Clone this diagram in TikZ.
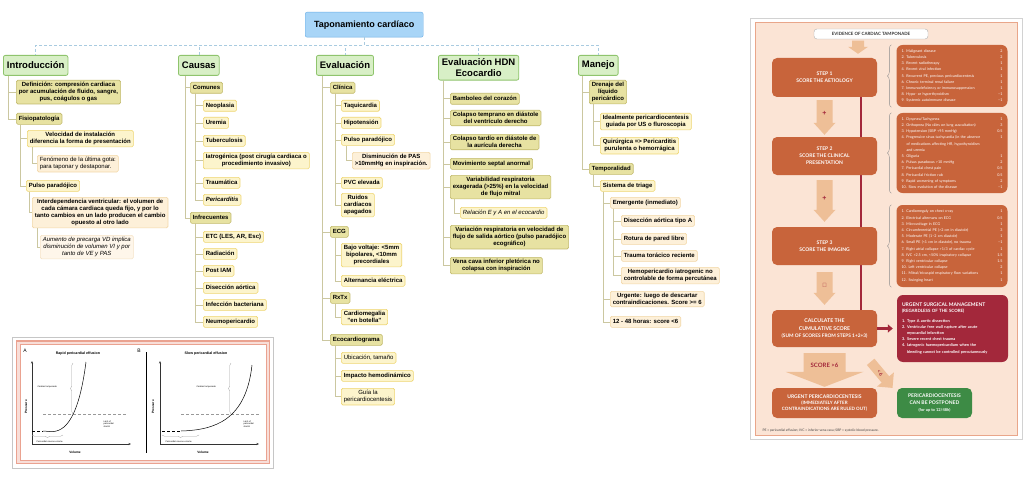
\documentclass[tikz,border=0pt]{standalone}
\usepackage{fontspec}
\setmainfont{Liberation Sans}
\newfontfamily\panelfont{Lato}
\usetikzlibrary{arrows.meta,calc,shapes.arrows,decorations.pathreplacing}
\pgfdeclarelayer{back}
\pgfdeclarelayer{mid}
\pgfsetlayers{back,mid,main}

\definecolor{rootfill}{HTML}{A8D5F7}
\definecolor{rootline}{HTML}{6AAEE6}
\definecolor{topicfill}{HTML}{D8EFC6}
\definecolor{topicline}{HTML}{8FC46D}
\definecolor{subfill}{HTML}{E7E2A2}
\definecolor{subline}{HTML}{C2BA6C}
\definecolor{itemfill}{HTML}{FCF4CC}
\definecolor{itemline}{HTML}{EED672}
\definecolor{notefill}{HTML}{FDF0D9}
\definecolor{noteline}{HTML}{F2D7A6}
\definecolor{finefill}{HTML}{FEF6EA}
\definecolor{fineline}{HTML}{F5E3C6}
\definecolor{linkcol}{HTML}{CBC7A0}
\definecolor{buscol}{HTML}{A9CBE0}
\definecolor{panelfill}{HTML}{FBE4D5}
\definecolor{panelline}{HTML}{E9A68A}
\definecolor{stepfill}{HTML}{C8643B}
\definecolor{arrowfill}{HTML}{EEBF97}
\definecolor{crimson}{HTML}{A3283B}
\definecolor{okgreen}{HTML}{3D8B45}
\definecolor{salmon}{HTML}{EAA290}

\newcommand{\mmfont}{\fontsize{6}{7}\selectfont}
% fat down arrow: from, to, half shaft, half head, head length
\newcommand{\fatarrow}[5]{%
  \fill[arrowfill] let \p1=(#1), \p2=(#2) in
    (\x1-#3pt,\y1) -- (\x1+#3pt,\y1) -- (\x1+#3pt,\y2+#5pt) -- (\x1+#4pt,\y2+#5pt)
    -- (\x1,\y2) -- (\x1-#4pt,\y2+#5pt) -- (\x1-#3pt,\y2+#5pt) -- cycle;}

\begin{document}
\begin{tikzpicture}[x=1pt, y=-1pt,
  rootbox/.style={rectangle, draw=rootline, fill=rootfill, rounded corners=2pt, anchor=north west,
    minimum width=118pt, minimum height=25pt, font=\fontsize{9}{10}\selectfont\bfseries},
  topic/.style={rectangle, draw=topicline, fill=topicfill, line width=0.8pt, rounded corners=2pt,
    anchor=north west, align=center, inner xsep=3.5pt, minimum height=20pt,
    font=\fontsize{9.5}{11}\selectfont\bfseries},
  mmbox/.style={rectangle, rounded corners=1.5pt, anchor=north west, align=center, inner xsep=2.5pt,
    inner ysep=2pt, minimum height=11pt, line width=0.6pt, font=\mmfont\bfseries},
  subbox/.style={mmbox, draw=subline, fill=subfill},
  itembox/.style={mmbox, draw=itemline, fill=itemfill},
  notebox/.style={mmbox, draw=noteline, fill=notefill},
  finebox/.style={mmbox, draw=fineline, fill=finefill},
  normaltext/.style={font=\mmfont},
  ital/.style={font=\mmfont\itshape},
  bital/.style={font=\mmfont\bfseries\itshape},
  link/.style={draw=linkcol, line width=0.6pt},
  bus/.style={draw=buscol, line width=0.6pt, densely dashed},
  tiny/.style={font=\fontsize{2.2}{2.6}\selectfont, align=left},
  axis/.style={-{Stealth[length=2.5pt,width=2pt]}, line width=0.4pt, black!80},
  brc/.style={decorate, decoration={brace, amplitude=2.5pt}, gray!70, line width=0.3pt},
  stepbox/.style={rectangle, rounded corners=5pt, fill=stepfill, text=white, align=center,
    minimum width=105pt, font=\panelfont\fontsize{5}{7}\selectfont\bfseries},
  listbox/.style={rectangle, rounded corners=6pt, fill=stepfill, text=white, text width=101pt,
    align=left, inner xsep=5pt, font=\panelfont\fontsize{3.7}{6.2}\selectfont},
  lbrace/.style={decorate, decoration={brace, amplitude=4pt}, black!45, line width=0.4pt},
  redline/.style={crimson, line width=2pt},
  redarr/.style={-{Triangle[length=5pt,width=8pt]}, crimson, line width=2.5pt, shorten >=4pt}
]
\useasboundingbox (0,0) rectangle (1024,476);
\begin{pgfonlayer}{back}
  \fill[white] (0,0) rectangle (1024,476);
\end{pgfonlayer}

% ---------------- mind map
\node[rootbox] (root) at (305,12) {Taponamiento cardíaco};

\node[topic] (intro) at (3,55) {Introducción};
\node[topic] (causas) at (178,55) {Causas};
\node[topic] (eval) at (316,55) {Evaluación};
\node[topic] (hdn) at (438,55) {Evaluación HDN\\Ecocardio};
\node[topic] (manejo) at (578,55) {Manejo};

\foreach \t in {intro,causas,eval,hdn,manejo}
  \draw[bus] (root.south) -- ++(0,8) -| (\t.north);

% Introduccion
\node[subbox] (def) at (16,80) {Definición: compresión cardiaca\\por acumulación de fluido, sangre,\\pus, coágulos o gas};
\node[subbox] (fisio) at (16,113) {Fisiopatología};
\node[itembox] (vel) at (27,130) {Velocidad de instalación\\diferencia la forma de presentación};
\node[notebox, normaltext, align=left] (ultima) at (37,155) {Fenómeno de la última gota:\\para taponar y destaponar.};
\node[itembox] (pulso) at (26,180) {Pulso paradójico};
\node[notebox] (interdep) at (32,197) {Interdependencia ventricular: el volumen de\\cada cámara cardiaca queda fijo, y por lo\\tanto cambios en un lado producen el cambio\\opuesto al otro lado};
\node[finebox, ital] (aumento) at (40,235) {Aumento de precarga VD implica\\disminución de volumen VI y por\\tanto de VE y PAS};

\foreach \c in {def,fisio} \draw[link] ([xshift=5pt]intro.south west) |- (\c.west);
\foreach \c in {vel,pulso} \draw[link] ([xshift=4pt]fisio.south west) |- (\c.west);
\draw[link] ([xshift=5pt]vel.south west) |- (ultima.west);
\draw[link] ([xshift=3pt]pulso.south west) |- (interdep.west);
\draw[link] ([xshift=5pt]interdep.south west) |- (aumento.west);

% Causas
\node[subbox] (comunes) at (190,82) {Comunes};
\node[itembox] (neo) at (203,100) {Neoplasia};
\node[itembox] (uremia) at (203,117) {Uremia};
\node[itembox] (tbc) at (203,135) {Tuberculosis};
\node[itembox] (iatro) at (203,152) {Iatrogénica (post cirugía cardiaca o\\procedimiento invasivo)};
\node[itembox] (traum) at (203,177) {Traumática};
\node[itembox, bital] (pericard) at (203,194) {Pericarditis};
\node[subbox] (infrec) at (190,212) {Infrecuentes};
\node[itembox] (etc) at (203,231) {ETC (LES, AR, Esc)};
\node[itembox] (radia) at (203,248) {Radiación};
\node[itembox] (postiam) at (203,265) {Post IAM};
\node[itembox] (daort) at (203,282) {Disección aórtica};
\node[itembox] (infecc) at (203,299) {Infección bacteriana};
\node[itembox] (neumo) at (203,316) {Neumopericardio};

\foreach \c in {comunes,infrec} \draw[link] ([xshift=7pt]causas.south west) |- (\c.west);
\foreach \c in {neo,uremia,tbc,iatro,traum,pericard} \draw[link] ([xshift=5pt]comunes.south west) |- (\c.west);
\foreach \c in {etc,radia,postiam,daort,infecc,neumo} \draw[link] ([xshift=5pt]infrec.south west) |- (\c.west);

% Evaluacion
\node[subbox] (clinica) at (330,82) {Clínica};
\node[itembox] (taqui) at (341,100) {Taquicardia};
\node[itembox] (hipot) at (341,117) {Hipotensión};
\node[itembox] (pulsoev) at (341,134) {Pulso paradójico};
\node[notebox] (dismin) at (352,152) {Disminución de PAS\\>10mmHg en inspiración.};
\node[itembox] (pvc) at (341,177) {PVC elevada};
\node[itembox] (ruidos) at (341,193) {Ruidos\\cardíacos\\apagados};
\node[subbox] (ecg) at (330,226) {ECG};
\node[itembox] (bajo) at (341,243) {Bajo voltaje: <5mm\\bipolares, <10mm\\precordiales};
\node[itembox] (altern) at (341,275) {Alternancia eléctrica};
\node[subbox] (rxtx) at (330,292) {RxTx};
\node[itembox] (cardiom) at (341,309) {Cardiomegalia\\"en botella"};
\node[subbox] (ecoc) at (330,334) {Ecocardiograma};
\node[itembox, normaltext] (ubic) at (341,352) {Ubicación, tamaño};
\node[itembox] (impacto) at (341,370) {Impacto hemodinámico};
\node[itembox, normaltext] (guia) at (341,388) {Guía la\\pericardiocentesis};

\foreach \c in {clinica,ecg,rxtx,ecoc} \draw[link] ([xshift=6pt]eval.south west) |- (\c.west);
\foreach \c in {taqui,hipot,pulsoev,pvc,ruidos} \draw[link] ([xshift=5pt]clinica.south west) |- (\c.west);
\draw[link] ([xshift=5pt]pulsoev.south west) |- (dismin.west);
\foreach \c in {bajo,altern} \draw[link] ([xshift=5pt]ecg.south west) |- (\c.west);
\draw[link] ([xshift=5pt]rxtx.south west) |- (cardiom.west);
\foreach \c in {ubic,impacto,guia} \draw[link] ([xshift=5pt]ecoc.south west) |- (\c.west);

% Evaluacion HDN
\node[subbox] (bamboleo) at (450,93) {Bamboleo del corazón};
\node[subbox] (colap1) at (450,110) {Colapso temprano en diástole\\del ventrículo derecho};
\node[subbox] (colap2) at (450,134) {Colapso tardío en diástole de\\la aurícula derecha};
\node[subbox] (septal) at (450,158) {Movimiento septal anormal};
\node[subbox] (variab) at (450,175) {Variabilidad respiratoria\\exagerada (>25\%) en la velocidad\\de flujo mitral};
\node[itembox, ital] (relacion) at (460,207) {Relación E y A en el ecocardio};
\node[subbox] (variac) at (450,225) {Variación respiratoria en velocidad de\\flujo de salida aórtico (pulso paradójico\\ecográfico)};
\node[subbox] (vena) at (450,257) {Vena cava inferior pletórica no\\colapsa con inspiración};

\foreach \c in {bamboleo,colap1,colap2,septal,variab,variac,vena} \draw[link] ([xshift=5pt]hdn.south west) |- (\c.west);
\draw[link] ([xshift=4pt]variab.south west) |- (relacion.west);

% Manejo
\node[subbox] (drenaje) at (589,80) {Drenaje del\\líquido\\pericárdico};
\node[itembox] (ideal) at (600,113) {Idealmente pericardiocentesis\\guiada por US o fluroscopia};
\node[itembox] (quirur) at (600,137) {Quirúrgica => Pericarditis\\purulenta o hemorrágica};
\node[subbox] (tempo) at (589,163) {Temporalidad};
\node[itembox] (triage) at (600,180) {Sistema de triage};
\node[notebox] (emerg) at (610,197) {Emergente (inmediato)};
\node[notebox] (daortA) at (621,215) {Disección aórtica tipo A};
\node[notebox] (rotura) at (621,233) {Rotura de pared libre};
\node[notebox] (traumat) at (621,250) {Trauma torácico reciente};
\node[notebox] (hemo) at (621,267) {Hemopericardio iatrogenic no\\controlable de forma percutánea};
\node[notebox] (urgente) at (610,291) {Urgente: luego de descartar\\contraindicaciones. Score >= 6};
\node[notebox] (doce) at (610,316) {12 - 48 horas: score <6};

\foreach \c in {drenaje,tempo} \draw[link] ([xshift=4pt]manejo.south west) |- (\c.west);
\foreach \c in {ideal,quirur} \draw[link] ([xshift=4pt]drenaje.south west) |- (\c.west);
\draw[link] ([xshift=4pt]tempo.south west) |- (triage.west);
\foreach \c in {emerg,urgente,doce} \draw[link] ([xshift=3pt]triage.south west) |- (\c.west);
\foreach \c in {daortA,rotura,traumat,hemo} \draw[link] ([xshift=3pt]emerg.south west) |- (\c.west);

% ---------------- pressure / volume curves
\draw[gray!45, line width=0.5pt] (12,337) rectangle (273,468);
\draw[salmon, fill=salmon!35, line width=1.2pt] (16.5,341) rectangle (269.5,463.5);
\draw[salmon, fill=white, line width=0.4pt] (20,344.5) rectangle (266,460);

\node[font=\fontsize{5}{6}\selectfont] at (25,351) {A};
\node[font=\fontsize{3.6}{4}\selectfont\bfseries] at (78,354) {Rapid pericardial effusion};
\draw[axis] (32,444) -- (32,361);
\draw[axis] (32,444) -- (131,444);
\node[rotate=90, font=\fontsize{3.2}{4}\selectfont\bfseries] at (26,407) {Pressure};
\node[font=\fontsize{3.2}{4}\selectfont\bfseries] at (75,452) {Volume};
\draw[densely dashed, gray!80, line width=0.4pt] (43,414) -- (126,414);
\node[tiny, anchor=north west] at (100,417) {Limit of\\pericardial\\stretch};
\draw[densely dashed, line width=0.4pt] (32,431) -- (43,431);
\draw[line width=0.5pt] (43,431) -- (50,431.5) .. controls (66,433) and (79,416) .. (86,362);
\draw[brc] (73,414) -- (73,363);
\node[tiny, anchor=west] at (34,387) {Cardiac tamponade};
\draw[brc] (63,435) -- (32,435);
\node[tiny, anchor=west] at (33,442) {Pericardial reserve volume};

\draw[line width=0.4pt] (146,352) -- (146,453);
\node[font=\fontsize{5}{6}\selectfont] at (139,351) {B};
\node[font=\fontsize{3.6}{4}\selectfont\bfseries] at (206,354) {Slow pericardial effusion};
\draw[axis] (160,444) -- (160,361);
\draw[axis] (160,444) -- (259,444);
\node[rotate=90, font=\fontsize{3.2}{4}\selectfont\bfseries] at (153,407) {Pressure};
\node[font=\fontsize{3.2}{4}\selectfont\bfseries] at (203,452) {Volume};
\draw[densely dashed, gray!80, line width=0.4pt] (181,414) -- (259,414);
\node[tiny, anchor=north west] at (240,417) {Limit of\\pericardial\\stretch};
\draw[densely dashed, line width=0.4pt] (162,431) -- (181,431);
\draw[line width=0.5pt] (181,431) .. controls (215,430) and (246,420) .. (252,365);
\draw[brc] (231,414) -- (231,363);
\node[tiny, anchor=west] at (193,387) {Cardiac tamponade};
\draw[brc] (199,435) -- (162,435);
\node[tiny, anchor=west] at (162,442) {Pericardial reserve volume};

% ---------------- score panel
\begin{pgfonlayer}{back}
  \draw[gray!35, fill=white, line width=0.5pt] (750,18) rectangle (1022,439);
  \draw[panelline, fill=panelfill, line width=0.8pt] (755,22) rectangle (1017,435);
\end{pgfonlayer}

\node[rectangle, rounded corners=3pt, draw=gray!60, fill=white, minimum width=114pt, minimum height=10pt,
  inner sep=1pt, text=black!80, font=\panelfont\fontsize{4.4}{5}\selectfont\bfseries] (evidence) at (871,34) {EVIDENCE OF CARDIAC TAMPONADE};

\node[stepbox, minimum height=39pt] (step1) at (824.5,77.5) {STEP 1\\SCORE THE AETIOLOGY};
\node[stepbox, minimum height=38pt] (step2) at (824.5,156) {STEP 2\\SCORE THE CLINICAL\\PRESENTATION};
\node[stepbox, minimum height=38pt] (step3) at (824.5,246) {STEP 3\\SCORE THE IMAGING};
\node[stepbox, minimum height=37pt, font=\panelfont\fontsize{4.8}{7.5}\selectfont\bfseries] (calc) at (824.5,328.5)
  {{\fontsize{5.2}{7.5}\selectfont CALCULATE THE}\\{\fontsize{5.2}{7.5}\selectfont CUMULATIVE SCORE}\\(SUM OF SCORES FROM STEPS 1+2+3)};
\node[stepbox, minimum height=30pt, font=\panelfont\fontsize{4.5}{6.2}\selectfont\bfseries] (urgpc) at (824.5,403)
  {{\fontsize{5}{6.2}\selectfont URGENT PERICARDIOCENTESIS}\\(IMMEDIATELY AFTER\\CONTRAINDICATIONS ARE RULED OUT)};
\node[stepbox, fill=okgreen, minimum width=75pt, minimum height=30pt, font=\panelfont\fontsize{5}{7}\selectfont\bfseries] (later) at (934.5,403)
  {PERICARDIOCENTESIS\\CAN BE POSTPONED\\{\fontsize{4}{8}\selectfont (for up to 12/48h)}};

\node[listbox, minimum height=62pt] (list1) at (952,76) {%
1. Malignant disease\hfill 2\\
2. Tuberculosis\hfill 2\\
3. Recent radiotherapy\hfill 1\\
4. Recent viral infection\hfill 1\\
5. Recurrent PE, previous pericardiocentesis\hfill 1\\
6. Chronic terminal renal failure\hfill 1\\
7. Immunodeficiency or immunosuppression\hfill 1\\
8. Hypo- or hyperthyroidism\hfill –1\\
9. Systemic autoimmune disease\hfill –1};
\node[listbox, minimum height=80pt] (list2) at (952,153) {%
1. Dyspnea/Tachypnea\hfill 1\\
2. Orthopnea (No râles on lung auscultation)\hfill 3\\
3. Hypotension (SBP <95 mmHg)\hfill 0.5\\
4. Progressive sinus tachycardia (in the absence\hfill 1\\
\hspace*{5pt}of medications affecting HR, hypothyroidism\\
\hspace*{5pt}and uremia\\
5. Oliguria\hfill 1\\
6. Pulsus paradoxus >10 mmHg\hfill 2\\
7. Pericardial chest pain\hfill 0.5\\
8. Pericardial friction rub\hfill 0.5\\
9. Rapid worsening of symptoms\hfill 2\\
10. Slow evolution of the disease\hfill –1};
\node[listbox, minimum height=82pt] (list3) at (952,246) {%
1. Cardiomegaly on chest x-ray\hfill 1\\
2. Electrical alternans on ECG\hfill 0.5\\
3. Microvoltage in ECG\hfill 1\\
4. Circumferential PE (>2 cm in diastole)\hfill 3\\
5. Moderate PE (1–2 cm diastole)\hfill 1\\
6. Small PE (<1 cm in diastole), no trauma\hfill –1\\
7. Right atrial collapse >1/3 of cardiac cycle\hfill 1\\
8. IVC >2.5 cm, <50\% inspiratory collapse\hfill 1.5\\
9. Right ventricular collapse\hfill 1.5\\
10. Left ventricular collapse\hfill 2\\
11. Mitral/tricuspid respiratory flow variations\hfill 1\\
12. Swinging heart\hfill 1};
\node[listbox, fill=crimson, minimum height=67pt, font=\panelfont\fontsize{3.9}{6.2}\selectfont\bfseries] (urgsurg) at (952.5,328.5) {%
{\fontsize{5}{7}\selectfont URGENT SURGICAL MANAGEMENT}\\
{\fontsize{4.4}{7}\selectfont (REGARDLESS OF THE SCORE)}\\[3pt]
1. Type A aortic dissection\\
2. Ventricular free wall rupture after acute\\
\hspace*{5pt}myocardial infarction\\
3. Severe recent chest trauma\\
4. Iatrogenic haemopericardium when the\\
\hspace*{5pt}bleeding cannot be controlled percutaneously};

\foreach \l in {list1,list2,list3}
  \draw[lbrace] ([xshift=-5pt]\l.south west) -- ([xshift=-5pt]\l.north west);

\begin{pgfonlayer}{mid}
  \draw[redline] ([xshift=-16pt]step1.south east) -- ([xshift=-16pt]calc.north east);
\end{pgfonlayer}
\draw[redarr] (calc.east) -- (urgsurg.west);

\fatarrow{$(evidence.south)+(-13,1.5)$}{$(step1.north)+(0,-4)$}{6}{10}{7}
\fatarrow{$(step1.south)+(0,3)$}{$(step2.north)+(0,-2)$}{8}{11}{12}
\fatarrow{$(step2.south)+(0,5)$}{$(step3.north)+(0,-5)$}{8}{11}{12}
\fatarrow{$(step3.south)+(0,7)$}{$(calc.north)+(0,-5)$}{8}{11}{12}
\fatarrow{$(calc.south)+(0,6)$}{$(urgpc.north)+(0,-1)$}{21}{39}{15}

\node[text=crimson, font=\fontsize{7}{8}\selectfont\bfseries] (plus1) at ($(step1.south)!0.4!(step2.north)$) {+};
\node[text=crimson, font=\fontsize{7}{8}\selectfont\bfseries] (plus2) at ($(step2.south)!0.45!(step3.north)$) {+};
\node[text=crimson, font=\fontsize{6}{7}\selectfont] (sigma) at ($(step3.south)!0.45!(calc.north)$) {$\mathbf{\Sigma}$};
\node[text=crimson, font=\panelfont\fontsize{6}{7}\selectfont\bfseries] (score6) at ($(calc.south)!0.45!(urgpc.north)$) {SCORE >6};

\node[single arrow, fill=arrowfill, rotate=-50, minimum height=34pt, minimum width=22pt,
  single arrow head extend=5pt, inner sep=2pt, text=crimson,
  font=\panelfont\fontsize{5}{6}\selectfont\bfseries] (less6) at (880,373) {<6};

\node[anchor=west, text=black!75, font=\panelfont\fontsize{3.3}{4}\selectfont] (foot) at (759,431)
  {PE = pericardial effusion; IVC = inferior vena cava; SBP = systolic blood pressure.};
\end{tikzpicture}
\end{document}
